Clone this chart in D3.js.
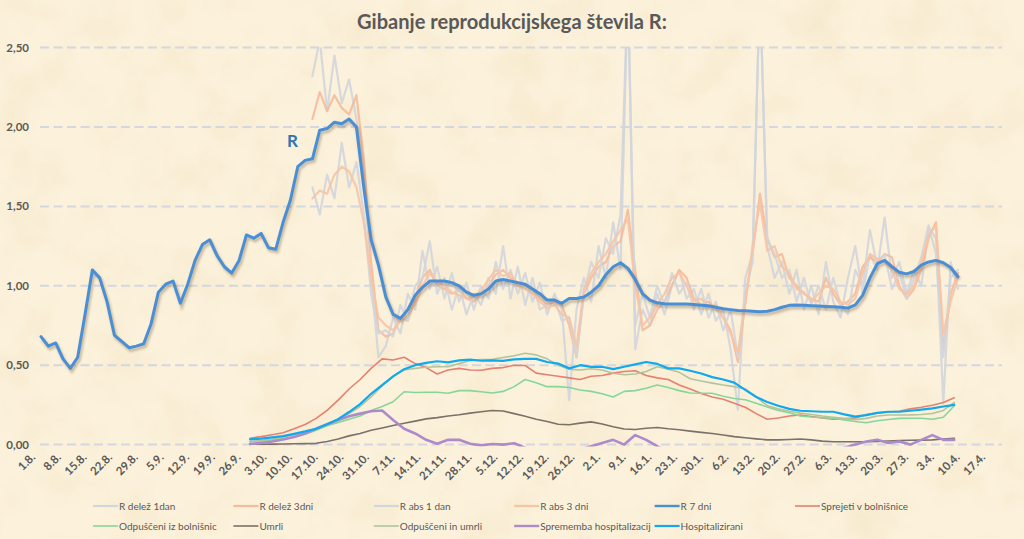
<!DOCTYPE html>
<html>
<head>
<meta charset="utf-8">
<script src="https://cdn.jsdelivr.net/npm/d3@7"></script>
<style>
  body { margin: 0; background: #fbf0d9; }
  text { font-family: Lato, "Open Sans", sans-serif; }
</style>
</head>
<body>
<script>
// x axis labels (weekly)
var tickLabels = ["1.8.", "8.8.", "15.8.", "22.8.", "29.8.", "5.9.", "12.9.", "19.9.", "26.9.",
  "3.10.", "10.10.", "17.10.", "24.10.", "31.10.", "7.11.", "14.11.", "21.11.", "28.11.",
  "5.12.", "12.12.", "19.12.", "26.12.", "2.1.", "9.1.", "16.1.", "23.1.", "30.1.", "6.2.",
  "13.2.", "20.2.", "27.2.", "6.3.", "13.3.", "20.3.", "27.3.", "3.4.", "10.4.", "17.4."];
var yTicks = [0, 0.5, 1, 1.5, 2, 2.5];

// R 7 dni, every 2nd day from 1.8.2020
var r7Start = "2020-08-01", r7Step = 2;
var r7Values = [0.68, 0.62, 0.64, 0.54, 0.48, 0.55, 0.82, 1.10, 1.05, 0.90,
  0.69, 0.65, 0.61, 0.62, 0.635, 0.76, 0.96, 1.01, 1.03, 0.89,
  1.01, 1.16, 1.26, 1.29, 1.19, 1.12, 1.08, 1.16, 1.32, 1.30,
  1.33, 1.24, 1.23, 1.40, 1.54, 1.75, 1.79, 1.80, 1.98, 1.99,
  2.03, 2.02, 2.05, 2.00, 1.62, 1.29, 1.13, 0.93, 0.82, 0.795,
  0.85, 0.94, 0.99, 1.03, 1.03, 1.03, 1.02, 1.00, 0.96, 0.94,
  0.95, 0.98, 1.03, 1.04, 1.03, 1.02, 1.01, 0.98, 0.95, 0.91,
  0.91, 0.89, 0.92, 0.92, 0.93, 0.96, 1.00, 1.07, 1.12, 1.145,
  1.11, 1.04, 0.95, 0.91, 0.893, 0.887, 0.885, 0.885, 0.885, 0.882,
  0.878, 0.874, 0.865, 0.855, 0.85, 0.845, 0.843, 0.84, 0.837, 0.84,
  0.85, 0.865, 0.877, 0.879, 0.877, 0.875, 0.873, 0.87, 0.868, 0.865,
  0.86, 0.88, 0.94, 1.05, 1.14, 1.16, 1.12, 1.085, 1.075, 1.09,
  1.13, 1.15, 1.16, 1.145, 1.115, 1.057];

// daily / 3-day R series, every 2nd day from 14.10.2020
var noisyStart = "2020-10-14", noisyStep = 2;
var rDelez1 = [2.32, 2.55, 2.10, 2.45, 2.15, 2.30, 2.05, 1.70, 1.05, 0.55,
  0.62, 0.80, 0.70, 0.95, 0.85, 1.22, 0.98, 1.12, 0.92, 1.08,
  0.90, 1.02, 0.85, 1.00, 0.92, 1.15, 0.98, 1.10, 0.95, 1.08,
  0.90, 1.02, 0.82, 0.95, 0.85, 0.28, 0.85, 1.05, 0.90, 1.25,
  1.05, 1.40, 1.10, 2.90, 0.60, 0.85, 0.75, 0.95, 0.82, 1.00,
  1.10, 0.92, 0.98, 0.82, 0.95, 0.78, 0.85, 0.60, 0.22, 1.05,
  1.20, 2.90, 1.25, 1.05, 1.15, 0.95, 1.10, 0.85, 1.00, 0.82,
  1.15, 0.90, 0.80, 1.05, 1.25, 0.95, 1.20, 1.10, 1.43, 1.05,
  1.15, 0.95, 1.10, 1.00, 1.37, 1.30, 0.26, 1.15, 0.98];
var rDelez3 = [2.05, 2.22, 2.10, 2.20, 2.12, 2.08, 2.20, 1.80, 1.15, 0.72,
  0.68, 0.70, 0.80, 0.78, 0.92, 1.05, 1.10, 1.00, 0.98, 0.95,
  0.97, 0.92, 0.90, 0.95, 1.00, 1.07, 1.10, 1.05, 1.02, 1.00,
  0.98, 0.92, 0.88, 0.90, 0.88, 0.75, 0.55, 0.95, 1.05, 1.12,
  1.15, 1.25, 1.28, 1.48, 1.10, 0.72, 0.75, 0.85, 0.90, 1.00,
  1.10, 1.05, 0.92, 0.88, 0.90, 0.85, 0.80, 0.72, 0.52, 0.90,
  1.20, 1.58, 1.30, 1.18, 1.20, 1.05, 1.00, 0.95, 0.92, 0.90,
  1.05, 0.95, 0.88, 0.90, 0.95, 1.12, 1.18, 1.15, 1.20, 1.18,
  1.00, 0.92, 0.98, 1.10, 1.30, 1.40, 0.60, 0.95, 1.08];
var rAbs1 = [1.62, 1.45, 1.70, 1.55, 1.90, 1.62, 1.78, 1.45, 0.95, 0.70,
  0.72, 0.68, 0.88, 0.78, 1.00, 1.05, 1.28, 0.95, 1.05, 0.85,
  1.00, 0.82, 0.95, 0.88, 1.05, 0.95, 1.25, 0.92, 1.12, 0.88,
  1.05, 0.85, 0.88, 0.92, 0.78, 0.80, 0.55, 0.95, 1.15, 1.05,
  1.30, 1.20, 1.45, 2.90, 0.75, 0.95, 0.80, 1.00, 0.88, 1.08,
  0.95, 1.02, 0.85, 0.98, 0.80, 0.90, 0.72, 0.85, 0.55, 0.95,
  1.15, 2.90, 1.30, 1.20, 1.05, 1.10, 0.90, 1.05, 0.88, 1.00,
  0.85, 1.05, 0.88, 0.82, 1.10, 1.00, 1.35, 1.12, 1.20, 0.98,
  1.08, 0.92, 1.05, 1.18, 1.38, 1.20, 0.55, 1.05, 1.10];
var rAbs3 = [1.55, 1.60, 1.58, 1.70, 1.75, 1.72, 1.62, 1.40, 1.05, 0.80,
  0.75, 0.72, 0.78, 0.85, 0.88, 1.00, 1.08, 1.02, 1.00, 0.96,
  0.94, 0.92, 0.93, 0.97, 1.04, 1.10, 1.06, 1.08, 1.00, 0.98,
  0.95, 0.90, 0.86, 0.88, 0.82, 0.80, 0.62, 0.98, 1.08, 1.15,
  1.20, 1.28, 1.35, 1.42, 1.00, 0.75, 0.80, 0.88, 0.95, 1.05,
  1.08, 1.00, 0.90, 0.92, 0.86, 0.88, 0.80, 0.70, 0.58, 0.88,
  1.25, 1.52, 1.22, 1.25, 1.12, 1.08, 0.98, 0.96, 0.90, 0.95,
  1.00, 0.98, 0.90, 0.88, 0.92, 1.08, 1.20, 1.17, 1.15, 1.10,
  0.98, 0.95, 1.00, 1.15, 1.32, 1.38, 0.70, 0.90, 1.05];

// hospital series, every 3rd day from 27.9.2020
var hospStart = "2020-09-27", hospStep = 3;
var sprejeti = [0.04, 0.05, 0.062, 0.075, 0.10, 0.127, 0.165, 0.215, 0.28, 0.35,
  0.41, 0.48, 0.54, 0.533, 0.55, 0.51, 0.485, 0.445, 0.47, 0.48,
  0.47, 0.468, 0.48, 0.485, 0.50, 0.498, 0.45, 0.44, 0.43, 0.42,
  0.41, 0.43, 0.435, 0.45, 0.46, 0.465, 0.435, 0.42, 0.41, 0.375,
  0.35, 0.322, 0.30, 0.285, 0.26, 0.235, 0.195, 0.16, 0.168, 0.18,
  0.186, 0.177, 0.168, 0.16, 0.162, 0.168, 0.19, 0.198, 0.205, 0.21,
  0.225, 0.235, 0.248, 0.265, 0.295];
var odpusceni = [0.018, 0.022, 0.03, 0.038, 0.048, 0.065, 0.09, 0.118, 0.14, 0.16,
  0.18, 0.215, 0.24, 0.27, 0.333, 0.328, 0.33, 0.33, 0.323, 0.34,
  0.34, 0.333, 0.325, 0.335, 0.365, 0.41, 0.39, 0.365, 0.365, 0.36,
  0.344, 0.335, 0.32, 0.30, 0.335, 0.34, 0.355, 0.375, 0.36, 0.34,
  0.325, 0.323, 0.323, 0.305, 0.29, 0.282, 0.26, 0.237, 0.215, 0.20,
  0.18, 0.174, 0.17, 0.166, 0.155, 0.145, 0.138, 0.15, 0.158, 0.165,
  0.166, 0.166, 0.16, 0.172, 0.245];
var umrli = [0.002, 0.002, 0.003, 0.004, 0.005, 0.006, 0.008, 0.02, 0.035, 0.055,
  0.07, 0.09, 0.105, 0.12, 0.135, 0.148, 0.162, 0.17, 0.18, 0.188,
  0.198, 0.207, 0.215, 0.212, 0.195, 0.178, 0.16, 0.145, 0.128, 0.125,
  0.135, 0.143, 0.13, 0.112, 0.098, 0.095, 0.103, 0.108, 0.10, 0.094,
  0.085, 0.077, 0.07, 0.06, 0.05, 0.043, 0.036, 0.03, 0.03, 0.032,
  0.035, 0.03, 0.022, 0.018, 0.018, 0.018, 0.018, 0.02, 0.023, 0.025,
  0.027, 0.028, 0.03, 0.035, 0.04];
var odpusceniUmrli = [0.018, 0.025, 0.035, 0.048, 0.062, 0.08, 0.10, 0.127, 0.16, 0.195,
  0.24, 0.30, 0.37, 0.43, 0.47, 0.48, 0.487, 0.49, 0.49, 0.51,
  0.53, 0.535, 0.537, 0.548, 0.56, 0.575, 0.565, 0.54, 0.50, 0.475,
  0.47, 0.478, 0.47, 0.449, 0.44, 0.445, 0.46, 0.49, 0.475, 0.455,
  0.415, 0.40, 0.387, 0.375, 0.365, 0.35, 0.30, 0.245, 0.225, 0.21,
  0.198, 0.19, 0.18, 0.172, 0.165, 0.157, 0.165, 0.18, 0.186, 0.186,
  0.187, 0.19, 0.196, 0.215, 0.265];
var sprememba = [0.004, 0.01, 0.02, 0.032, 0.048, 0.07, 0.10, 0.128, 0.155, 0.178,
  0.195, 0.21, 0.215, 0.155, 0.10, 0.07, 0.03, 0.005, 0.03, 0.03,
  0.005, -0.005, 0.004, 0.0, 0.008, -0.02, -0.04, -0.03, -0.06, -0.05,
  -0.03, -0.01, 0.01, 0.03, 0.0, 0.06, 0.03, -0.01, -0.05, -0.07,
  -0.1, -0.12, -0.12, -0.13, -0.15, -0.18, -0.2, -0.18, -0.15, -0.1,
  -0.08, -0.05, -0.05, -0.04, -0.02, 0.0, 0.02, 0.03, 0.01, 0.02,
  0.0, 0.03, 0.06, 0.03, 0.03];
var hospitalizirani = [0.033, 0.038, 0.045, 0.053, 0.068, 0.083, 0.10, 0.128, 0.16, 0.205,
  0.255, 0.32, 0.375, 0.43, 0.475, 0.50, 0.515, 0.525, 0.518, 0.53,
  0.535, 0.528, 0.53, 0.527, 0.537, 0.54, 0.54, 0.52, 0.51, 0.48,
  0.50, 0.49, 0.49, 0.475, 0.49, 0.505, 0.52, 0.508, 0.48, 0.48,
  0.465, 0.448, 0.425, 0.41, 0.39, 0.345, 0.30, 0.268, 0.245, 0.225,
  0.213, 0.21, 0.207, 0.207, 0.19, 0.176, 0.186, 0.20, 0.207, 0.207,
  0.213, 0.22, 0.228, 0.24, 0.25];

var seriesNames = ["R delež 1dan", "R delež 3dni", "R abs 1 dan", "R abs 3 dni", "R 7 dni",
  "Sprejeti v bolnišnice", "Odpuščeni iz bolnišnic", "Umrli", "Odpuščeni in umrli",
  "Sprememba hospitalizacij", "Hospitalizirani"];

// styles
var seriesColors = ["#d2d5db", "#f5bb9b", "#d2d5db", "#f6c4a6", "#4a8fd6",
  "#e6806f", "#86d69a", "#7a7169", "#b3c49c", "#ad8acb", "#11a9ee"];
var seriesWidths = [2.2, 2.2, 2.2, 2.2, 3, 1.6, 1.6, 1.6, 1.6, 2.6, 2.2];

var parseDate = d3.timeParse("%Y-%m-%d");
function toPoints(start, step, values) {
  var s = parseDate(start);
  return values.map(function(v, i) {
    return { date: d3.timeDay.offset(s, i * step), value: v };
  });
}
var seriesData = [
  toPoints(noisyStart, noisyStep, rDelez1),
  toPoints(noisyStart, noisyStep, rDelez3),
  toPoints(noisyStart, noisyStep, rAbs1),
  toPoints(noisyStart, noisyStep, rAbs3),
  toPoints(r7Start, r7Step, r7Values),
  toPoints(hospStart, hospStep, sprejeti),
  toPoints(hospStart, hospStep, odpusceni),
  toPoints(hospStart, hospStep, umrli),
  toPoints(hospStart, hospStep, odpusceniUmrli),
  toPoints(hospStart, hospStep, sprememba),
  toPoints(hospStart, hospStep, hospitalizirani)
];

var width = 1024, height = 539;
var svg = d3.select("body").append("svg")
    .attr("width", width)
    .attr("height", height);
var defs = svg.append("defs");

// paper-ish background
var paper = defs.append("filter").attr("id", "paper")
    .attr("x", 0).attr("y", 0).attr("width", "100%").attr("height", "100%");
paper.append("feTurbulence")
    .attr("type", "fractalNoise")
    .attr("baseFrequency", "0.02")
    .attr("numOctaves", 4)
    .attr("seed", 7);
paper.append("feColorMatrix")
    .attr("type", "matrix")
    .attr("values", "0 0 0 0 0.90  0 0 0 0 0.78  0 0 0 0 0.56  1.2 0 0 0 -0.48");

var shadow = defs.append("filter").attr("id", "shadow")
    .attr("x", "-5%").attr("y", "-5%").attr("width", "110%").attr("height", "110%");
shadow.append("feGaussianBlur").attr("stdDeviation", 1.2);

defs.append("clipPath").attr("id", "plotClip")
  .append("rect")
    .attr("x", 0).attr("y", 47.5)
    .attr("width", width).attr("height", 399);

svg.append("rect")
    .attr("width", width).attr("height", height)
    .attr("fill", "#fcf2dc");
svg.append("rect")
    .attr("width", width).attr("height", height)
    .attr("filter", "url(#paper)");

var x = d3.scaleTime()
    .domain([parseDate("2020-08-01"), parseDate("2021-04-20")])
    .range([41, 1002]);
var y = d3.scaleLinear()
    .domain([0, 2.5])
    .range([444.6, 47.6]);

// title
var title = svg.append("text")
    .attr("x", 512)
    .attr("y", 29)
    .attr("text-anchor", "middle")
    .attr("font-size", 18)
    .attr("font-weight", "bold")
    .attr("fill", "#595959")
    .text("Gibanje reprodukcijskega števila R:");
var tl = title.node().getComputedTextLength();
title.attr("font-size", 18 * 310 / tl);

// gridlines
svg.append("g").selectAll("line").data(yTicks).enter().append("line")
    .attr("x1", 40).attr("x2", 1002)
    .attr("y1", function(d) { return y(d); })
    .attr("y2", function(d) { return y(d); })
    .attr("stroke", "#d4d6e0")
    .attr("stroke-width", 2)
    .attr("stroke-dasharray", "9,4.5");

// y labels
svg.append("g").selectAll("text").data(yTicks).enter().append("text")
    .attr("x", 29)
    .attr("y", function(d) { return y(d) + 4; })
    .attr("text-anchor", "end")
    .attr("font-size", 11.5)
    .attr("font-weight", "bold")
    .attr("fill", "#595959")
    .text(function(d) { return d3.format(".2f")(d).replace(".", ","); });

// x labels
function labelDate(s) {
  var p = s.split(".");
  var m = +p[1];
  return new Date(m >= 8 ? 2020 : 2021, m - 1, +p[0]);
}
svg.append("g").selectAll("text").data(tickLabels).enter().append("text")
    .attr("transform", function(d) {
      return "translate(" + (x(labelDate(d)) - 5) + ",458) rotate(-45)";
    })
    .attr("text-anchor", "end")
    .attr("font-size", 11.5)
    .attr("font-weight", "bold")
    .attr("fill", "#595959")
    .text(function(d) { return d; });

// lines
var line = d3.line()
    .x(function(d) { return x(d.date); })
    .y(function(d) { return y(d.value); });

var plot = svg.append("g").attr("clip-path", "url(#plotClip)");

seriesData.forEach(function(data, i) {
  if (i == 4) {
    plot.append("path")
        .attr("d", line(data))
        .attr("transform", "translate(1.5,2.5)")
        .attr("fill", "none")
        .attr("stroke", "#6b5a3a")
        .attr("stroke-opacity", 0.35)
        .attr("stroke-width", 3.5)
        .attr("filter", "url(#shadow)");
  }
  plot.append("path")
      .attr("d", line(data))
      .attr("fill", "none")
      .attr("stroke", seriesColors[i])
      .attr("stroke-opacity", i < 4 ? 0.9 : 1)
      .attr("stroke-width", seriesWidths[i])
      .attr("stroke-linejoin", "round")
      .attr("stroke-linecap", "round");
});

// "R" marker label
svg.append("text")
    .attr("x", 287)
    .attr("y", 147)
    .attr("font-size", 17)
    .attr("font-weight", "bold")
    .attr("fill", "#2e75b6")
    .text("R");

// legend
var legend = svg.append("g").selectAll("g").data(seriesNames).enter().append("g")
    .attr("transform", function(d, i) {
      return "translate(" + (93 + (i % 6) * 140.4) + "," + (506 + Math.floor(i / 6) * 20) + ")";
    });
legend.append("line")
    .attr("x1", 0).attr("x2", 25)
    .attr("stroke", function(d, i) { return seriesColors[i]; })
    .attr("stroke-width", function(d, i) { return Math.min(seriesWidths[i], 2.4); });
legend.append("text")
    .attr("x", 26)
    .attr("y", 3.5)
    .attr("font-size", 10)
    .attr("fill", "#595959")
    .text(function(d) { return d; });
</script>
</body>
</html>
